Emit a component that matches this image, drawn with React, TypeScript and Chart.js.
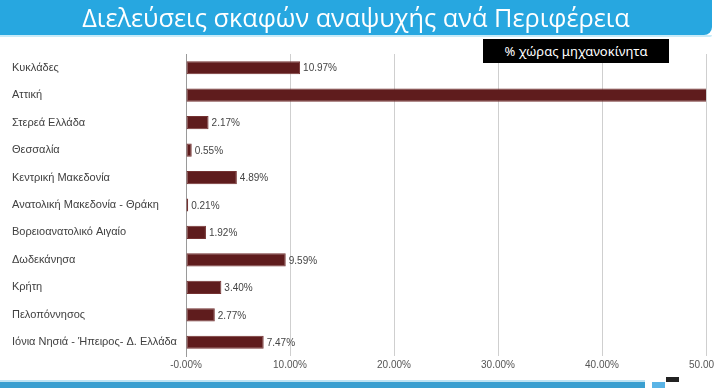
import React, { useEffect, useRef } from "react";
import { Chart, registerables } from "chart.js";

Chart.register(...registerables);

const titleText = "Διελεύσεις σκαφών αναψυχής ανά Περιφέρεια";
const seriesLabel = "% χώρας μηχανοκίνητα";
const categories = [
  "Κυκλάδες",
  "Αττική",
  "Στερεά Ελλάδα",
  "Θεσσαλία",
  "Κεντρική Μακεδονία",
  "Ανατολική Μακεδονία - Θράκη",
  "Βορειοανατολικό Αιγαίο",
  "Δωδεκάνησα",
  "Κρήτη",
  "Πελοπόννησος",
  "Ιόνια Νησιά - Ήπειρος- Δ. Ελλάδα",
];
const values = [10.97, 56.06, 2.17, 0.55, 4.89, 0.21, 1.92, 9.59, 3.4, 2.77, 7.47];
const xMin = 0;
const xMax = 50;
const xStep = 10;

const narrow = "'Liberation Sans Narrow', 'Arial Narrow', 'Liberation Sans', Arial, sans-serif";

const valueLabelPlugin = {
  id: "valueLabels",
  afterDatasetsDraw(chart: any) {
    const ctx = chart.ctx;
    const meta = chart.getDatasetMeta(0);
    ctx.save();
    ctx.font = `10px ${narrow}`;
    ctx.fillStyle = "#444";
    ctx.textAlign = "left";
    ctx.textBaseline = "middle";
    meta.data.forEach((bar: any, i: number) => {
      const v = values[i];
      ctx.fillText(v.toFixed(2) + "%", bar.x + 3, bar.y + 1);
    });
    ctx.restore();
  },
};

export default function App() {
  const ref = useRef<HTMLCanvasElement | null>(null);
  useEffect(() => {
    if (!ref.current) return;
    const chart = new Chart(ref.current, {
      type: "bar",
      data: {
        labels: categories,
        datasets: [
          {
            label: seriesLabel,
            data: values,
            backgroundColor: "#5f1c1d",
            borderColor: "#743232",
            borderWidth: 1,
            borderSkipped: false,
            categoryPercentage: 1,
            barPercentage: 0.48,
          },
        ],
      },
      options: {
        indexAxis: "y",
        animation: false,
        responsive: false,
        maintainAspectRatio: false,
        layout: { padding: { top: 54, bottom: 12, left: 12, right: 34 } },
        plugins: {
          legend: { display: false },
          title: { display: false },
          tooltip: { enabled: false },
        },
        scales: {
          x: {
            type: "linear",
            min: xMin,
            max: xMax,
            ticks: {
              stepSize: xStep,
              padding: 3,
              color: "#555",
              font: { family: narrow, size: 10 },
              callback: (v: any) => (Number(v) === 0 ? "-0.00%" : Number(v).toFixed(2) + "%"),
            },
            grid: {
              drawTicks: false,
              color: (c: any) => (c.index === 0 ? "#9a9a9a" : "#cfcfcf"),
              lineWidth: 1,
            },
            border: { display: false },
            afterFit: (s: any) => {
              s.height = 20;
            },
          },
          y: {
            ticks: {
              crossAlign: "far",
              color: "#404040",
              padding: 4,
              font: { family: "'Liberation Sans', Arial, sans-serif", size: 11 },
            },
            grid: { display: false, drawTicks: false },
            border: { display: true, color: "#9a9a9a" },
            afterFit: (s: any) => {
              s.width = 174;
            },
          },
        },
      },
      plugins: [valueLabelPlugin],
    });
    return () => chart.destroy();
  }, []);

  return (
    <div
      style={{
        position: "fixed",
        left: 0,
        top: 0,
        width: 714,
        height: 388,
        overflow: "hidden",
        background: "#fff",
      }}
    >
      <canvas
        ref={ref}
        width={740}
        height={388}
        style={{ position: "absolute", left: 0, top: 0, width: 740, height: 388 }}
      />
      <div
        style={{
          position: "absolute",
          left: 0,
          top: 35,
          width: 712,
          height: 2,
          background: "#c8ebf8",
          borderBottomRightRadius: 4,
        }}
      />
      <div
        style={{
          position: "absolute",
          left: 0,
          top: 0,
          width: 712,
          height: 35,
          background: "#27a7e0",
          borderBottomRightRadius: 8,
          color: "#fff",
          fontFamily: "'Open Sans', 'Noto Sans', sans-serif",
          fontWeight: 400,
          fontSize: 25.3,
          lineHeight: "35px",
          textAlign: "center",
          whiteSpace: "nowrap",
        }}
      >
        {titleText}
      </div>
      <div
        style={{
          position: "absolute",
          left: 483,
          top: 39,
          width: 186,
          height: 24,
          background: "#000",
          color: "#fff",
          fontFamily: "'Noto Sans', sans-serif",
          fontSize: 13,
          lineHeight: "24px",
          textAlign: "center",
          whiteSpace: "nowrap",
        }}
      >
        {seriesLabel}
      </div>
      <div style={{ position: "absolute", left: 0, top: 380, width: 645, height: 2, background: "#bfe3f3" }} />
      <div style={{ position: "absolute", left: 0, top: 382, width: 645, height: 6, background: "#3a9fd0" }} />
      <div style={{ position: "absolute", left: 652, top: 382, width: 13, height: 6, background: "#5ab4e6" }} />
      <div style={{ position: "absolute", left: 666, top: 377, width: 13, height: 5, background: "#222" }} />
    </div>
  );
}
